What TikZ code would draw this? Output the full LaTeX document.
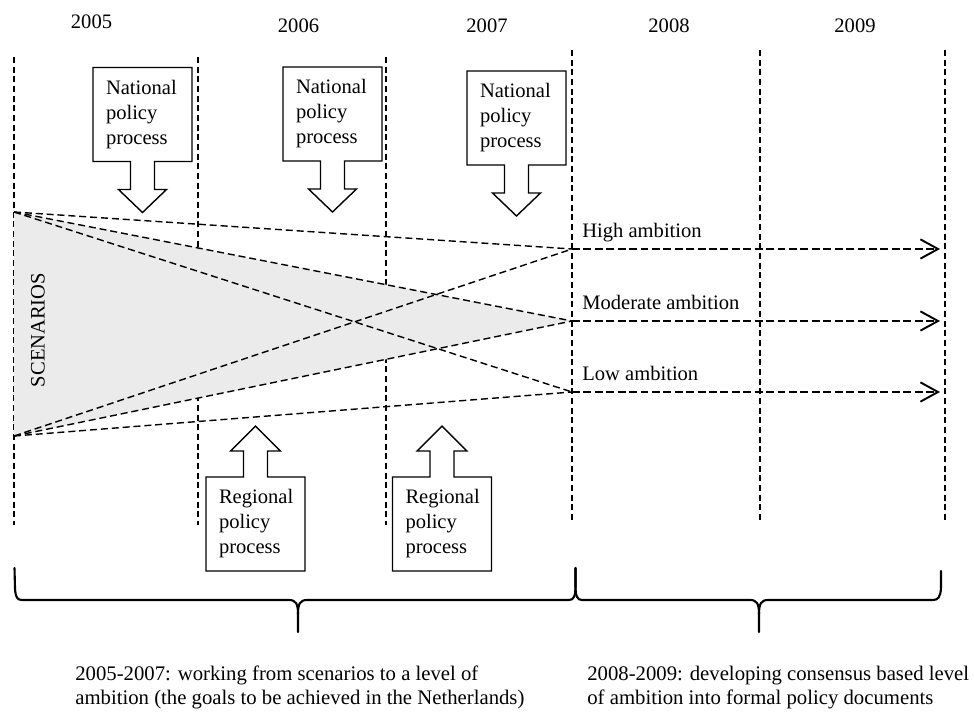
\documentclass[tikz,border=0pt]{standalone}
\usepackage{fontspec}
\setmainfont{Liberation Serif}
\usetikzlibrary{arrows.meta,calc}

\tikzset{
    every node/.style={font=\fontsize{11.7}{14.2}\selectfont},
    yearline/.style={dash pattern=on 3.5pt off 2pt, line width=0.7pt},
    fanline/.style={dash pattern=on 4pt off 2.2pt, line width=0.8pt},
    ambition/.style={dash pattern=on 4.5pt off 2pt, line width=1.1pt, -{Straight Barb[length=10pt,width=11pt]}},
    amblabel/.style={anchor=base west, inner sep=0pt},
    procbox/.style={inner sep=0pt, outer sep=0pt, minimum width=1.98cm, minimum height=1.88cm, text width=1.46cm, align=left},
    boxline/.style={draw, line width=0.8pt, line join=miter},
    curly/.style={line width=1.2pt, line cap=round},
    phasetext/.style={inner sep=0pt, anchor=north west, align=left, font=\fontsize{11.8}{13.4}\selectfont}
}

\begin{document}
\begin{tikzpicture}[x=0.02cm, y=-0.02cm]
    \useasboundingbox (0,0) rectangle (974,713);

    \node [anchor=base] (y2005) at (91.5,28.3) {2005};
    \node [anchor=base] (y2006) at (298.5,32.5) {2006};
    \node [anchor=base] (y2007) at (487,32.3) {2007};
    \node [anchor=base] (y2008) at (669,32.3) {2008};
    \node [anchor=base] (y2009) at (855,32.3) {2009};

    \foreach \x in {14,198,386} \draw [yearline] (\x,57) -- (\x,525);
    \foreach \x in {572,760,945} \draw [yearline] (\x,50) -- (\x,520);

    \coordinate (top) at (14,212);
    \coordinate (bot) at (14,436);
    \coordinate (high) at (572,249);
    \coordinate (mod) at (572,321);
    \coordinate (low) at (572,392);
    \coordinate (highend) at (940,249);
    \coordinate (modend) at (940,321);
    \coordinate (lowend) at (940,392);

    \fill [black!8] (top) -- (mod) -- (bot) -- cycle;
    \foreach \a in {top,bot}
        \foreach \b in {high,mod,low}
            \draw [fanline] (\a) -- (\b);
    \draw [ambition] (high) -- (highend);
    \draw [ambition] (mod) -- (modend);
    \draw [ambition] (low) -- (lowend);

    \node [rotate=90] (scen) at (38,330) {SCENARIOS};
    \node [amblabel] (lhigh) at (582,237) {High ambition};
    \node [amblabel] (lmod) at (582,309) {Moderate ambition};
    \node [amblabel] (llow) at (582,380.7) {Low ambition};

    \node [procbox] (nat1) at (142.5,114.5) {National\\policy\\process};
    \node [procbox] (nat2) at (332.5,114) {National\\policy\\process};
    \node [procbox] (nat3) at (516.5,118) {National\\policy\\process};
    \foreach \n in {nat1,nat2,nat3} {
        \draw [boxline] ($(\n.south)+(-12,0)$) -- (\n.south west) -- (\n.north west) -- (\n.north east)
            -- (\n.south east) -- ($(\n.south)+(12,0)$) -- ++(0,28) -- ++(12,0) -- ++(-24,23)
            -- ++(-24,-23) -- ++(12,0) -- cycle;
    }

    \node [procbox] (reg1) at (255.5,524) {Regional\\policy\\process};
    \node [procbox] (reg2) at (442,524) {Regional\\policy\\process};
    \foreach \n in {reg1,reg2} {
        \draw [boxline] ($(\n.north)+(12,0)$) -- (\n.north east) -- (\n.south east) -- (\n.south west)
            -- (\n.north west) -- ($(\n.north)+(-12,0)$) -- ++(0,-26) -- ++(-13,0) -- ++(25,-25)
            -- ++(25,25) -- ++(-13,0) -- cycle;
    }

    \draw [curly] (14.5,568) -- (15,588) .. controls (15.5,597) and (17,600) .. (22,600) -- (289,600)
        .. controls (296,600) and (298,604) .. (298,614) -- (298,632);
    \draw [curly] (298,614) .. controls (298,604) and (300,600) .. (307,600) -- (569,600)
        .. controls (574,600) and (575.5,596) .. (575.5,585) -- (575.5,568);
    \draw [curly] (575.5,568) -- (575.5,585) .. controls (575.5,596) and (577,600) .. (582,600) -- (750,600)
        .. controls (757,600) and (759,604) .. (759,614) -- (759,632);
    \draw [curly] (759,614) .. controls (759,604) and (761,600) .. (768,600) -- (933,600)
        .. controls (938,600) and (940.5,597) .. (941,588) -- (941,571);

    \node [phasetext] (phase1) at (75,666) {2005-2007: working from scenarios to a level of\\ambition (the goals to be achieved in the Netherlands)};
    \node [phasetext] (phase2) at (587,666) {2008-2009: developing consensus based level\\of ambition into formal policy documents};
\end{tikzpicture}
\end{document}
